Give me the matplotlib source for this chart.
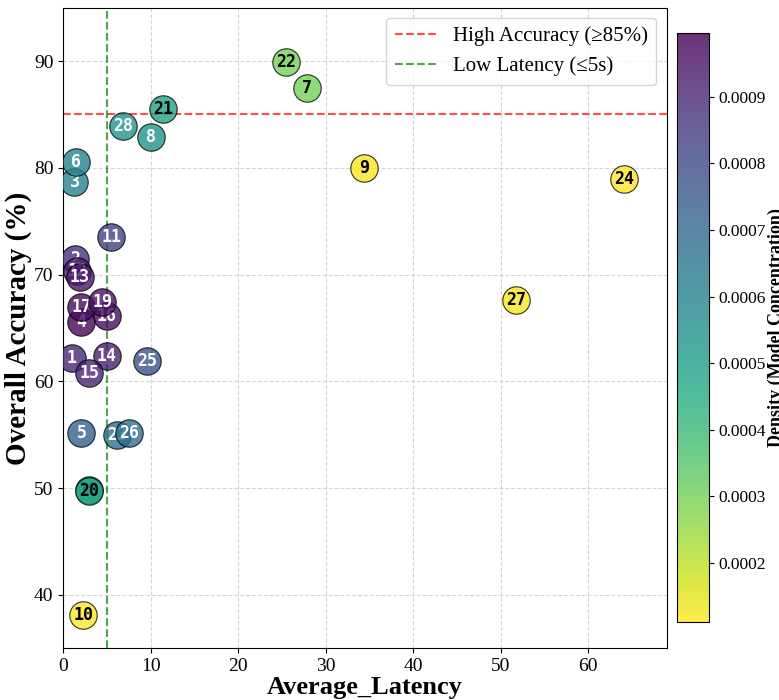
import matplotlib
matplotlib.use('Agg')
import matplotlib.pyplot as plt
import matplotlib.colors as mcolors
import matplotlib.cm as cm

plt.rcParams['font.family'] = ['Liberation Serif', 'DejaVu Serif']

# model ids, latency (s), accuracy (%), density
model_ids = list(range(1, 29))
latency = [1.0, 1.4, 1.3, 2.1, 2.1, 1.5, 27.9, 10.0, 34.4, 2.3,
           5.5, 1.6, 1.9, 5.0, 3.0, 5.0, 2.1, 2.95, 4.5, 3.0,
           11.4, 25.5, 6.2, 64.1, 9.6, 7.5, 51.8, 6.9]
accuracy = [62.2, 71.5, 78.7, 65.6, 55.2, 80.5, 87.5, 82.9, 80.0, 38.1,
            73.5, 70.3, 69.8, 62.4, 60.8, 66.1, 67.0, 49.8, 67.4, 49.7,
            85.5, 89.9, 55.0, 79.0, 61.9, 55.2, 67.6, 83.9]
density = [0.00090, 0.00088, 0.00060, 0.00098, 0.00072, 0.00060, 0.00030, 0.00055, 0.00012, 0.000111,
           0.00083, 0.00093, 0.00094, 0.00092, 0.00091, 0.00097, 0.00097, 0.00048, 0.00096, 0.00048,
           0.00049, 0.00030, 0.00068, 0.000111, 0.00078, 0.00068, 0.00012, 0.00054]

acc_threshold = 85
lat_threshold = 5

fig = plt.figure(figsize=(7.79, 7.0), dpi=100)
ax = fig.add_axes([0.081, 0.074, 0.775, 0.915])
cax = fig.add_axes([0.869, 0.1114, 0.041, 0.8416])

norm = mcolors.Normalize(vmin=min(density), vmax=0.000996)
cmap = plt.get_cmap('viridis_r')

# draw each model as its own circle so later ones sit on top of earlier labels
for i, mid in enumerate(model_ids):
    ax.scatter(latency[i], accuracy[i], s=390, color=cmap(norm(density[i])),
               alpha=0.8, edgecolors='black', linewidths=0.8, zorder=3 + 2 * i)
    txt_color = 'black' if density[i] < 0.0005 else 'white'
    ax.text(latency[i], accuracy[i], str(mid), ha='center', va='center',
            fontsize=12, fontweight='bold', color=txt_color,
            family='DejaVu Sans Mono', zorder=4 + 2 * i)

ax.axhline(acc_threshold, color='red', linestyle='--', alpha=0.7, lw=1.5,
           label='High Accuracy (≥85%)', zorder=2)
ax.axvline(lat_threshold, color='g', linestyle='--', alpha=0.7, lw=1.5,
           label='Low Latency (≤5s)', zorder=2)

ax.set_xlim(0, 69)
ax.set_ylim(35, 95)
ax.grid(True, linestyle='--', alpha=0.6, color='#bbbbbb', zorder=0)
ax.set_axisbelow(True)
ax.tick_params(labelsize=14)
ax.set_xlabel('Average_Latency', fontsize=19, fontweight='bold', labelpad=1)
ax.set_ylabel('Overall Accuracy (%)', fontsize=21, fontweight='bold', labelpad=1)
ax.legend(loc='upper right', fontsize=15)

sm = cm.ScalarMappable(norm=norm, cmap=cmap)
cb = fig.colorbar(sm, cax=cax, alpha=0.8)
cb.set_ticks([0.0002, 0.0003, 0.0004, 0.0005, 0.0006, 0.0007, 0.0008, 0.0009])
cb.ax.tick_params(labelsize=12.5)
cb.set_label('Density (Model Concentration)', fontsize=13, fontweight='bold', labelpad=1)

fig.savefig('out.png', dpi=100)
plt.close()
